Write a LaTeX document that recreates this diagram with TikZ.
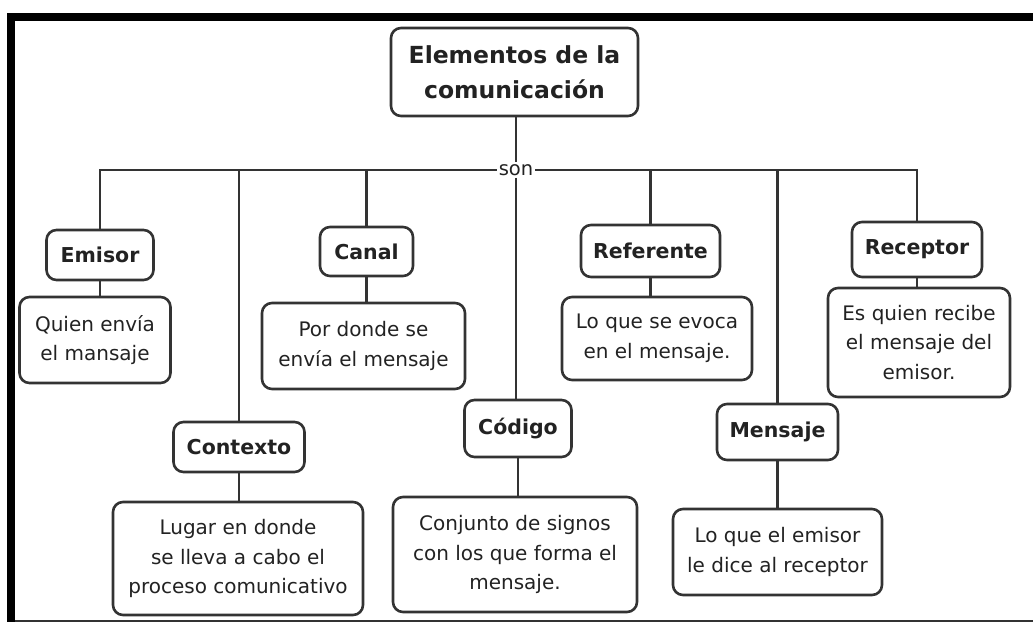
\documentclass[tikz,border=0pt]{standalone}
\usepackage{fontspec}
\setmainfont{DejaVu Sans}
\definecolor{ink}{HTML}{222222}
\definecolor{edge}{HTML}{333333}
\begin{document}
\begin{tikzpicture}[x=1pt,y=-1pt,
  box/.style={draw=edge,line width=2.6pt,rounded corners=10pt,inner sep=0pt,align=center,text=ink},
  lbl/.style={box,font=\fontsize{20.5}{26}\selectfont\bfseries},
  desc/.style={box,font=\fontsize{20}{29.5}\selectfont},
  conn/.style={draw=edge,line width=2.1pt}]
\useasboundingbox (0,0) rectangle (1033,622);
% frame
\fill[black] (7,13) rectangle (1033,21);
\fill[black] (7,13) rectangle (15,622);
\fill[edge] (15,620) rectangle (1033,622);
% nodes
\node[box,font=\fontsize{23.5}{35}\selectfont\bfseries,minimum width=247pt,minimum height=88pt] (title) at (514.5,72) {Elementos de la\\comunicación};
\node[text=ink,font=\fontsize{19.5}{22}\selectfont,inner sep=2pt,fill=white] (son) at (516,170) {son};

\node[lbl,minimum width=107pt,minimum height=50pt] (emisor) at (100,255) {Emisor};
\node[desc,minimum width=151pt,minimum height=86pt] (quien) at (95,340) {Quien envía\\el mansaje};

\node[lbl,minimum width=93pt,minimum height=49pt] (canal) at (366.5,251.5) {Canal};
\node[desc,minimum width=203pt,minimum height=86pt] (pordonde) at (363.5,346) {Por donde se\\envía el mensaje};

\node[lbl,minimum width=131pt,minimum height=50pt] (contexto) at (239,447) {Contexto};
\node[desc,minimum width=250pt,minimum height=113pt] (lugar) at (238,558.5) {Lugar en donde\\se lleva a cabo el\\proceso comunicativo};

\node[lbl,minimum width=107pt,minimum height=57pt] (codigo) at (518,428.5) {Código};
\node[desc,minimum width=244pt,minimum height=115pt] (conjunto) at (515,554.5) {Conjunto de signos\\con los que forma el\\mensaje.};

\node[lbl,minimum width=139pt,minimum height=52pt] (referente) at (650.5,251) {Referente};
\node[desc,minimum width=190pt,minimum height=83pt] (evoca) at (657,338.5) {Lo que se evoca\\en el mensaje.};

\node[lbl,minimum width=130pt,minimum height=55pt] (receptor) at (917,249.5) {Receptor};
\node[desc,minimum width=182pt,minimum height=109pt] (recibe) at (919,342.5) {Es quien recibe\\el mensaje del\\emisor.};

\node[lbl,minimum width=121pt,minimum height=56pt] (mensaje) at (777.5,432) {Mensaje};
\node[desc,minimum width=209pt,minimum height=86pt] (loque) at (777.5,552) {Lo que el emisor\\le dice al receptor};

% connectors
\draw[conn] (title.south -| son.north) -- (son.north);
\draw[conn] (son.west) -| (emisor.north);
\draw[conn] (son.west) -| (contexto.north);
\draw[conn] (son.west) -| (canal.north);
\draw[conn] (son.south) -- (son.south |- codigo.north);
\draw[conn] (son.east) -| (referente.north);
\draw[conn] (son.east) -| (mensaje.north);
\draw[conn] (son.east) -| (receptor.north);

\draw[conn] (emisor.south) -- (emisor.south |- quien.north);
\draw[conn] (canal.south) -- (canal.south |- pordonde.north);
\draw[conn] (contexto.south) -- (contexto.south |- lugar.north);
\draw[conn] (codigo.south) -- (codigo.south |- conjunto.north);
\draw[conn] (referente.south) -- (referente.south |- evoca.north);
\draw[conn] (receptor.south) -- (receptor.south |- recibe.north);
\draw[conn] (mensaje.south) -- (mensaje.south |- loque.north);
\end{tikzpicture}
\end{document}
